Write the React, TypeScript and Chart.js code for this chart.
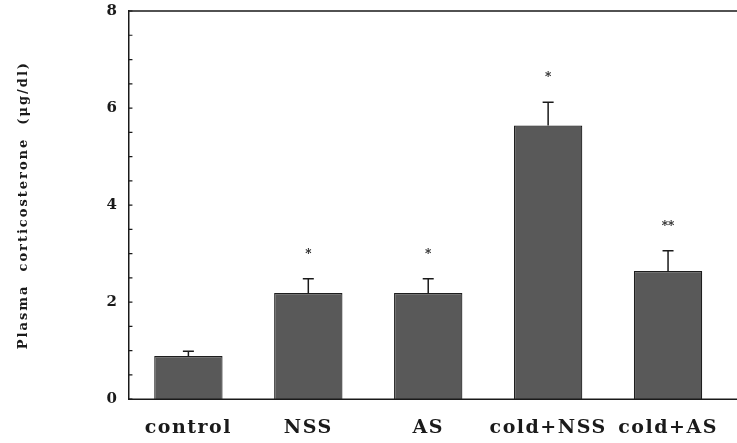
import React, { useEffect, useRef } from 'react';
import { Chart, registerables } from 'chart.js';

Chart.register(...registerables);

const categories = ['control', 'NSS', 'AS', 'cold+NSS', 'cold+AS'];
const means = [0.89, 2.19, 2.19, 5.64, 2.64];
const sems = [0.1, 0.29, 0.29, 0.48, 0.42];
const significance = ['', '*', '*', '*', '**'];
const yLabeledTicks = [0, 2, 4, 6, 8];
const yTitle = 'Plasma  corticosterone  (μg/dl)';

const SERIF = '"DejaVu Serif", "Liberation Serif", serif';

const decorPlugin = {
  id: 'decor',
  beforeDraw(chart: any) {
    (chart.ctx as any).letterSpacing = '1.5px';
  },
  afterDatasetsDraw(chart: any) {
    const { ctx, chartArea, scales } = chart;
    const y = scales.y;
    ctx.save();
    ctx.strokeStyle = '#1a1a1a';
    ctx.lineWidth = 1.6;
    ctx.beginPath();
    ctx.moveTo(chartArea.left, chartArea.top);
    ctx.lineTo(chart.width, chartArea.top);
    ctx.moveTo(chartArea.left, chartArea.bottom);
    ctx.lineTo(chart.width, chartArea.bottom);
    ctx.stroke();
    ctx.lineWidth = 1.2;
    ctx.beginPath();
    y.ticks.forEach((t: any) => {
      const py = y.getPixelForValue(t.value);
      ctx.moveTo(chartArea.left, py);
      ctx.lineTo(chartArea.left + 4, py);
    });
    ctx.stroke();
    const meta = chart.getDatasetMeta(0);
    ctx.lineWidth = 1.5;
    ctx.fillStyle = '#1a1a1a';
    ctx.font = `bold 12px ${SERIF}`;
    (ctx as any).letterSpacing = '0px';
    ctx.textAlign = 'center';
    ctx.textBaseline = 'middle';
    meta.data.forEach((bar: any, i: number) => {
      const cx = bar.x;
      const yTop = y.getPixelForValue(means[i] + sems[i]);
      ctx.beginPath();
      ctx.moveTo(cx, bar.y);
      ctx.lineTo(cx, yTop);
      ctx.moveTo(cx - 5.5, yTop);
      ctx.lineTo(cx + 5.5, yTop);
      ctx.stroke();
      if (significance[i]) {
        ctx.fillText(significance[i], cx, yTop - 24);
      }
    });
    ctx.translate(24, (chartArea.top + chartArea.bottom) / 2);
    ctx.rotate(-Math.PI / 2);
    ctx.font = `bold 13px ${SERIF}`;
    (ctx as any).letterSpacing = '2px';
    ctx.fillText(yTitle, 0, 0);
    ctx.restore();
  },
};

export default function App() {
  const ref = useRef<HTMLCanvasElement>(null);
  useEffect(() => {
    document.body.style.margin = '0';
    const chart = new Chart(ref.current!, {
      type: 'bar',
      data: {
        labels: categories,
        datasets: [
          {
            data: means,
            backgroundColor: '#595959',
            borderColor: '#1e1e1e',
            borderWidth: 1.2,
            categoryPercentage: 1,
            barPercentage: 0.57,
          },
        ],
      },
      options: {
        animation: false,
        responsive: false,
        layout: { padding: { top: 0, right: 9, bottom: -13, left: 98 } },
        plugins: {
          legend: { display: false },
          tooltip: { enabled: false },
        },
        scales: {
          x: {
            grid: { display: false, drawTicks: false },
            border: { display: false },
            ticks: {
              color: '#1a1a1a',
              padding: 17,
              font: { family: SERIF, size: 19, weight: 'bold' },
              maxRotation: 0,
              autoSkip: false,
            },
          },
          y: {
            min: 0,
            max: 8,
            grid: { display: false, drawTicks: false },
            border: { display: true, color: '#1a1a1a', width: 1.5 },
            afterFit: (scale: any) => {
              scale.paddingTop = 11;
            },
            ticks: {
              stepSize: 0.5,
              color: '#1a1a1a',
              padding: 10,
              font: { family: SERIF, size: 15, weight: 'bold' },
              callback: (v: any) => (yLabeledTicks.includes(Number(v)) ? String(v) : ''),
            },
          },
        },
      },
      plugins: [decorPlugin],
    });
    return () => chart.destroy();
  }, []);
  return (
    <div style={{ width: 737, height: 443, background: '#fff' }}>
      <canvas ref={ref} width={737} height={443} />
    </div>
  );
}
